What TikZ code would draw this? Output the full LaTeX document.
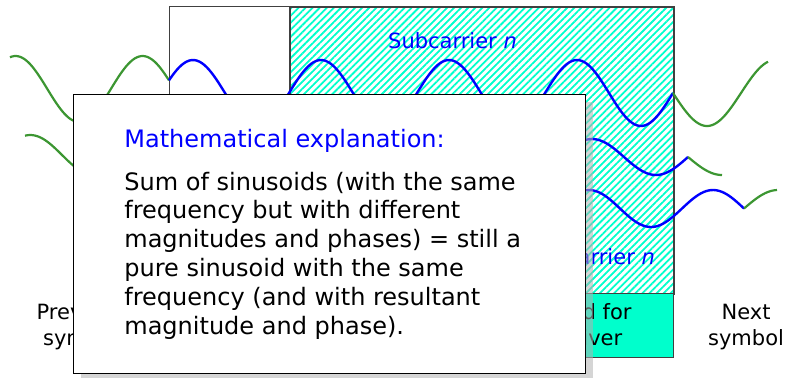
\documentclass[tikz,border=0pt]{standalone}
\usepackage{fontspec}
\setmainfont{DejaVu Sans}
\usetikzlibrary{patterns.meta}
\definecolor{aqua}{RGB}{0,255,204}
\definecolor{tailgreen}{RGB}{60,150,50}

\begin{document}
\begin{tikzpicture}[
    x=0.5pt, y=-0.5pt,
    every node/.style={font=\fontsize{10.5}{13}\selectfont, inner sep=0pt},
    symframe/.style={draw=black!75, line width=0.6pt, anchor=north west},
    hatchbox/.style={symframe, pattern={Lines[angle=45, distance=2.5pt, line width=0.9pt]}, pattern color=aqua},
    fftbox/.style={symframe, fill=aqua},
    subwave/.style={blue, line width=1.2pt},
    nbwave/.style={tailgreen, line width=1.1pt},
    lbl/.style={anchor=base, align=center},
    popup/.style={draw=black, line width=0.7pt, fill=white, anchor=north west, minimum width=256pt, minimum height=139.5pt},
    popshadow/.style={fill=black!30, fill opacity=0.55, anchor=north west, minimum width=256pt, minimum height=139.5pt},
    bigtext/.style={anchor=base west, font=\fontsize{12}{14.4}\selectfont},
]
\useasboundingbox (0,0) rectangle (785,377);

% symbol frame: guard interval, useful part, FFT window
\node[symframe, fill=white, minimum width=60pt, minimum height=143.5pt] (guard) at (169,6) {};
\node[hatchbox, minimum width=192pt, minimum height=143.5pt] (useful) at (289,6) {};
\node[fftbox, minimum width=192pt, minimum height=32pt] (fft) at (289,293) {};
\node[lbl] (fftnote) at (545,345) {Interval used for\\FFT in receiver};
\node[anchor=base, blue] (subA) at (452.5,48) {Subcarrier \textit{n}};
\node[anchor=base, blue] (subB) at (590.5,264) {Subcarrier \textit{n}};

% direct path
\draw[nbwave] plot[domain=10:169, samples=80, smooth] (\x, {89-33*cos((\x-15.6)/127*360)});
\draw[subwave] plot[domain=169:673, samples=200, smooth] (\x, {93-33*sin((\x-289)/128*360)});
\draw[nbwave] plot[domain=673:768, samples=50, smooth] (\x, {93+33*sin((\x-673)/136*360)});
% first echo
\draw[nbwave] plot[domain=25:184, samples=80, smooth] (\x, {155-20*cos((\x-30.3)/127*360)});
\draw[subwave] plot[domain=184:688, samples=200, smooth] (\x, {157-18*sin((\x-304)/128*360)});
\draw[nbwave] plot[domain=688:722, samples=20, smooth] (\x, {157+18*sin((\x-688)/136*360)});
% second echo
\draw[subwave] plot[domain=240:744, samples=200, smooth] (\x, {208.5-18.5*cos((\x-713)/124*360)});
\draw[nbwave] plot[domain=744:777, samples=20, smooth] (\x, {208.5-18.5*sin((\x-744)/136*360)});

\node[lbl] (prev) at (81,345) {Previous\\symbol};
\node[lbl] (next) at (746,345) {Next\\symbol};

% call-out
\node[popshadow] (shade) at (81,102) {};
\node[popup] (box) at (73,94) {};
\node[bigtext, blue] (title) at (124,147) {Mathematical explanation:};
\node[bigtext, align=left] (body) at (124,334) {Sum of sinusoids (with the same\\
frequency but with different\\
magnitudes and phases) = still a\\
pure sinusoid with the same\\
frequency (and with resultant\\
magnitude and phase).};
\end{tikzpicture}
\end{document}
